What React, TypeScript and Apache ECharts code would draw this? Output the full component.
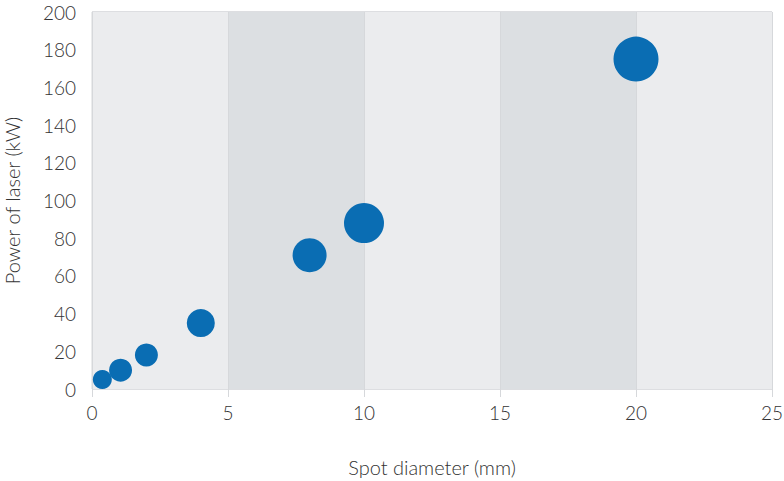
import React, { useEffect, useRef } from "react";
import * as echarts from "echarts";

const spotDiameter = [0.38, 1.05, 2, 4, 8, 10, 20];
const laserPower = [5, 10, 18, 35, 71, 88, 175];
const bubbleValue = [19, 23, 23, 28, 34, 40, 45];
const xTicks = [0, 5, 10, 15, 20, 25];
const yTicks = [0, 20, 40, 60, 80, 100, 120, 140, 160, 180, 200];

const FONT = "'Source Sans Pro', Lato, 'Noto Sans', sans-serif";

export default function App() {
  const ref = useRef<HTMLDivElement>(null);
  useEffect(() => {
    if (!ref.current) return;
    const chart = echarts.init(ref.current, undefined, { renderer: "svg" });
    const data = spotDiameter.map((x, i) => [x, laserPower[i], bubbleValue[i]]);
    chart.setOption({
      animation: false,
      backgroundColor: "#ffffff",
      grid: {
        left: 92,
        right: 12,
        top: 12,
        bottom: 92,
        outerBoundsMode: "none",
        containLabel: false,
        show: true,
        backgroundColor: "#ebecee",
        borderColor: "#d6d8db",
        borderWidth: 1,
      },
      xAxis: {
        type: "value",
        min: xTicks[0],
        max: xTicks[xTicks.length - 1],
        interval: 5,
        name: "Spot diameter (mm)",
        nameLocation: "middle",
        nameGap: 68,
        nameTextStyle: { fontFamily: FONT, fontSize: 20, fontWeight: 300, color: "#333" },
        axisLine: { show: false },
        axisTick: { show: true, length: 8, lineStyle: { color: "#d6d8db", width: 1 } },
        axisLabel: { margin: 14, fontFamily: FONT, fontSize: 19, fontWeight: 300, color: "#333" },
        splitLine: { show: true, lineStyle: { color: "#d6d8db", width: 1 } },
        splitArea: { show: true, areaStyle: { color: ["#ebecee", "#dcdfe2"] } },
      },
      yAxis: {
        type: "value",
        min: yTicks[0],
        max: yTicks[yTicks.length - 1],
        interval: 20,
        name: "Power of laser (kW)",
        nameLocation: "middle",
        nameGap: 70,
        nameTextStyle: { fontFamily: FONT, fontSize: 20, fontWeight: 300, color: "#333" },
        axisLine: { show: false },
        axisTick: { show: false },
        axisLabel: { margin: 16, fontFamily: FONT, fontSize: 19, fontWeight: 300, color: "#333" },
        splitLine: { show: true, lineStyle: { color: "#d9dadd", width: 1.5 } },
      },
      series: [
        {
          type: "scatter",
          data,
          symbolSize: (v: number[]) => v[2],
          itemStyle: { color: "#0a6db3", opacity: 1 },
        },
      ],
    });
    return () => chart.dispose();
  }, []);
  return (
    <div
      ref={ref}
      style={{ position: "fixed", left: 0, top: 0, width: 784, height: 481 }}
    />
  );
}
